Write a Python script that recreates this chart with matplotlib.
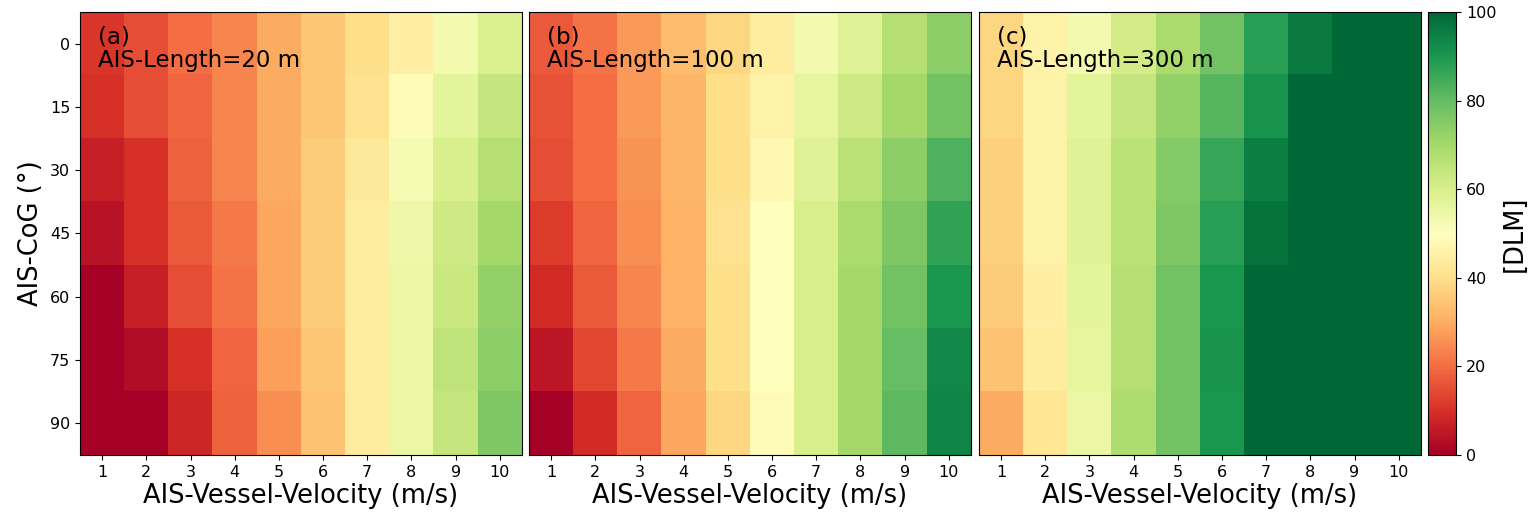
import matplotlib
matplotlib.use('Agg')
import matplotlib.pyplot as plt
import numpy as np

velocity = [1, 2, 3, 4, 5, 6, 7, 8, 9, 10]
cog = [0, 15, 30, 45, 60, 75, 90]

# DLM values, rows = CoG (0..90), columns = velocity (1..10)
dlm_20 = np.array([
    [11, 15, 20, 24, 30, 35, 40, 45, 53, 59],
    [10, 15, 19, 24, 30, 35, 41, 49, 57, 64],
    [7, 10, 18, 24, 30, 36, 43, 52, 60, 67],
    [4, 10, 17, 22, 29, 36, 44, 54, 62, 70],
    [0, 7, 15, 21, 29, 36, 44, 55, 63, 73],
    [0, 3, 10, 19, 28, 35, 44, 55, 65, 74],
    [0, 0, 8, 18, 25, 34, 44, 55, 64, 76],
])
dlm_100 = np.array([
    [17, 21, 27, 33, 38, 44, 53, 58, 67, 74],
    [16, 20, 27, 32, 40, 46, 56, 62, 70, 78],
    [15, 20, 26, 32, 40, 48, 58, 66, 74, 83],
    [12, 19, 25, 31, 41, 50, 60, 69, 76, 87],
    [9, 17, 24, 31, 40, 50, 60, 70, 78, 90],
    [5, 14, 22, 30, 40, 50, 60, 70, 80, 93],
    [0, 9, 19, 29, 38, 49, 60, 70, 81, 94],
])
dlm_300 = np.array([
    [38, 46, 53, 61, 69, 78, 88, 96, 100, 100],
    [38, 46, 57, 64, 73, 82, 91, 100, 100, 100],
    [37, 46, 58, 66, 75, 86, 95, 100, 100, 100],
    [37, 46, 58, 66, 76, 88, 98, 100, 100, 100],
    [36, 45, 57, 67, 78, 90, 100, 100, 100, 100],
    [34, 44, 56, 67, 78, 91, 100, 100, 100, 100],
    [30, 42, 55, 68, 78, 90, 100, 100, 100, 100],
])

panels = [(dlm_20, '(a)\nAIS-Length=20 m'),
          (dlm_100, '(b)\nAIS-Length=100 m'),
          (dlm_300, '(c)\nAIS-Length=300 m')]

fig = plt.figure(figsize=(15.34, 5.16), dpi=100)
lefts = [0.0522, 0.3449, 0.6382]
for i, (data, label) in enumerate(panels):
    ax = fig.add_axes([lefts[i], 0.118, 0.288, 0.859])
    im = ax.imshow(data, cmap='RdYlGn', vmin=0, vmax=100, aspect='auto')
    ax.set_xticks(range(len(velocity)))
    ax.set_xticklabels(velocity, fontsize=11.5)
    ax.set_yticks(range(len(cog)))
    if i == 0:
        ax.set_yticklabels(cog, fontsize=11.5)
        ax.set_ylabel('AIS-CoG (°)', fontsize=18.5)
    else:
        ax.set_yticklabels([])
        ax.tick_params(axis='y', length=0)
    ax.set_xlabel('AIS-Vessel-Velocity (m/s)', fontsize=18.5, labelpad=2)
    ax.text(0.04, 0.97, label, transform=ax.transAxes, fontsize=16.5,
            va='top', ha='left', linespacing=1.05)

cax = fig.add_axes([0.9309, 0.118, 0.0183, 0.859])
cb = fig.colorbar(im, cax=cax)
cb.set_ticks([0, 20, 40, 60, 80, 100])
cb.ax.tick_params(labelsize=11.5)
cb.set_label('[DLM]', fontsize=18.5)

fig.savefig('out.png', dpi=100)
